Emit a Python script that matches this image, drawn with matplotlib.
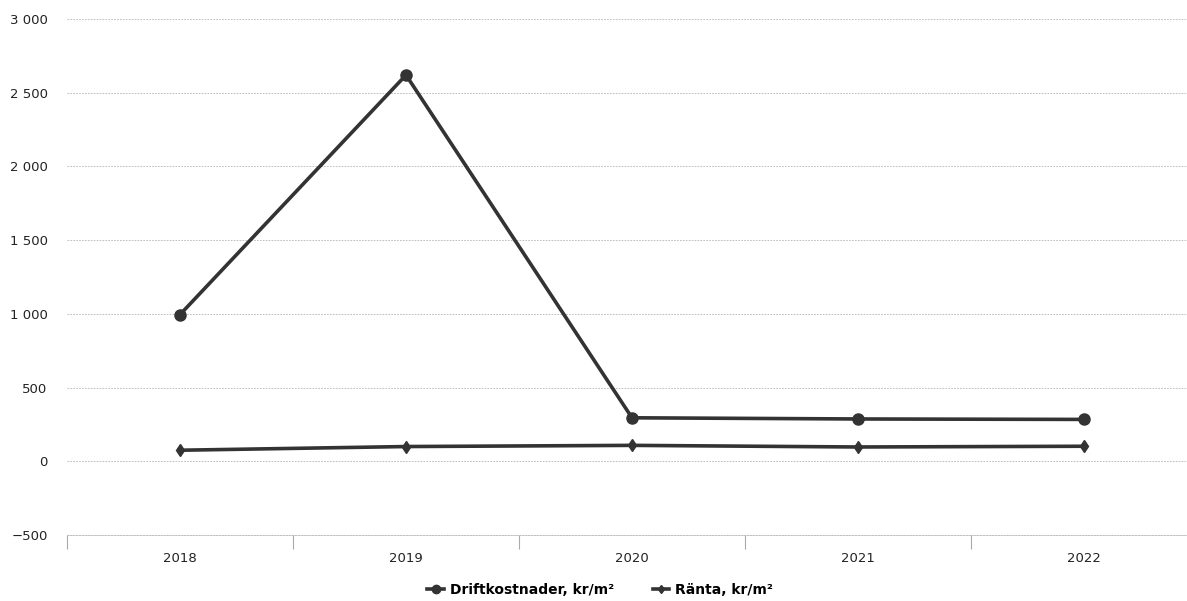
import matplotlib
matplotlib.use("Agg")
import matplotlib.pyplot as plt
from matplotlib.ticker import FixedLocator, FuncFormatter

years = ["2018", "2019", "2020", "2021", "2022"]
drift = [995, 2620, 295, 287, 284]
ranta = [75, 100, 108, 97, 102]
yticks = [-500, 0, 500, 1000, 1500, 2000, 2500, 3000]

plt.rcParams['font.family'] = ['DejaVu Sans']
fig = plt.figure(figsize=(11.87, 6.01), dpi=100)
W, H = 1187, 601
left, right = 67 / W, 1197 / W
top, bottom = 1 - 19 / H, 1 - 535 / H
ax = fig.add_axes([left, bottom, right - left, top - bottom])

x = list(range(len(years)))
col = '#333333'
ax.plot(x, drift, color=col, lw=2.6, marker='o', ms=8, label='Driftkostnader, kr/m²', zorder=3)
ax.plot(x, ranta, color=col, lw=2.6, marker='d', ms=6, label='Ränta, kr/m²', zorder=3)

ax.set_xlim(-0.5, len(years) - 0.5)
ax.set_ylim(-500, 3000)
ax.set_yticks(yticks)
ax.yaxis.set_major_formatter(FuncFormatter(lambda v, p: ('−' if v < 0 else '') + f"{abs(int(v)):,}".replace(',', ' ')))
ax.set_xticks(x)
ax.set_xticklabels(years)
ax.xaxis.set_minor_locator(FixedLocator([i - 0.5 for i in range(len(years) + 1)]))
ax.tick_params(axis='x', which='major', length=0, pad=12, labelsize=9.5, colors='#222222')
ax.tick_params(axis='x', which='minor', length=10, color='#aaaaaa', width=0.8)
ax.tick_params(axis='y', length=0, pad=14, labelsize=9.5, colors='#222222')
ax.grid(axis='y', color='#b5b5b5', ls=(0, (2, 1.5)), lw=0.6)
for s in ['top', 'right', 'left']:
    ax.spines[s].set_visible(False)
ax.spines['bottom'].set_color('#b5b5b5')
ax.spines['bottom'].set_linestyle((0, (2, 1.5)))
ax.spines['bottom'].set_linewidth(0.6)

leg = fig.legend(loc='center', bbox_to_anchor=(600 / W, 1 - 590 / H), ncol=2, frameon=False,
                 prop={'weight': 'bold', 'size': 10}, handlelength=1.2, columnspacing=2.8,
                 handletextpad=0.4, markerscale=0.75)
fig.savefig('out.png', dpi=100)
